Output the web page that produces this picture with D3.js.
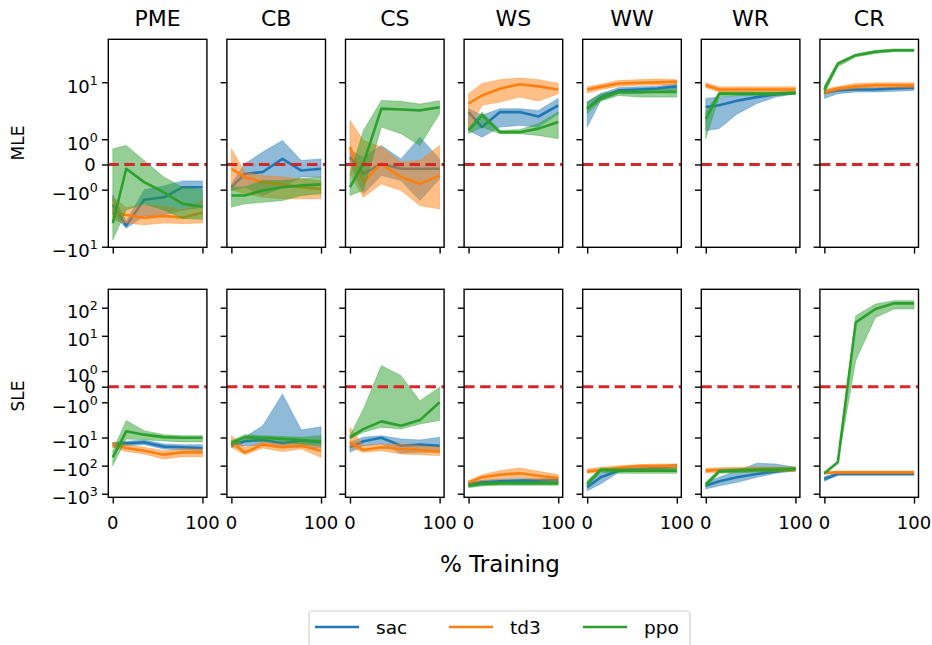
<!DOCTYPE html>
<html>
<head>
<meta charset="UTF-8">
<style>
  body { margin: 0; background: #fff; }
  text { font-family: "DejaVu Sans", sans-serif; fill: #000; }
</style>
</head>
<body>
<svg width="932" height="645"></svg>
<script src="https://cdn.jsdelivr.net/npm/d3@7/dist/d3.min.js"></script>
<script>
const envs = ["PME", "CB", "CS", "WS", "WW", "WR", "CR"];
const algos = ["sac", "td3", "ppo"];
const colors = ["#1f77b4", "#ff7f0e", "#2ca02c"];
const steps = [0, 15, 35, 57, 78, 100];
const xTicks = [0, 100];
const mleTicks = [-10, -1, 0, 1, 10];
const sleTicks = [-1000, -100, -10, -1, 0, 1, 10, 100];
const mleLimits = [-10.3, 88];
const sleLimits = [-1340, 452];

// per algorithm (sac, td3, ppo): [mean, low, high]
const mlePME = [
  [[-1.6, -3.4, -1.4, -1.3, -0.9, -0.9], [-2.0, -3.9, -2.1, -2.0, -1.8, -1.7], [-1.2, -2.8, -1.0, -0.85, -0.65, -0.65]],
  [[-1.9, -2.0, -2.3, -2.1, -2.3, -1.9], [-2.6, -3.0, -3.3, -3.0, -3.1, -3.0], [-1.3, -1.7, -1.6, -1.65, -1.8, -1.45]],
  [[-3.05, -0.17, -0.7, -1.1, -1.56, -1.67], [-7.1, -1.8, -1.56, -1.8, -2.4, -2.5], [0.62, 0.75, 0.16, -0.5, -0.9, -1.0]]
];
const mleCB = [
  [[-0.9, -0.37, -0.3, 0.22, -0.24, -0.17], [-1.03, -0.9, -1.23, -0.9, -0.5, -0.5], [-0.77, 0.03, 0.49, 0.95, 0.16, 0.22]],
  [[-0.17, -0.5, -0.7, -0.79, -0.9, -0.97], [-1.0, -1.16, -1.3, -1.36, -1.36, -1.36], [0.62, -0.3, -0.44, -0.5, -0.57, -0.64]],
  [[-1.23, -1.23, -1.03, -0.9, -0.83, -0.79], [-1.69, -1.56, -1.5, -1.43, -1.23, -1.16], [-0.9, -0.9, -0.64, -0.64, -0.57, -0.5]]
];
const mleCS = [
  [[0.29, -0.37, 0.03, -0.17, -0.17, -0.17], [0.03, -1.16, -0.44, -0.64, -1.43, -0.57], [0.56, 0.29, 0.75, 0.22, 1.08, 0.22]],
  [[0.69, -0.7, 0.03, -0.5, -0.77, -0.44], [-0.37, -1.3, -0.77, -1.03, -1.63, -1.76], [1.75, 0.95, 0.69, 0.09, 0.16, 0.75]],
  [[-0.9, 0.03, 2.62, 2.5, 2.4, 2.8], [-1.23, -1.03, 1.48, 1.22, 0.75, 2.02], [-0.37, 1.35, 3.98, 3.8, 3.3, 3.9]]
];
const mleWS = [
  [[2.2, 1.48, 2.2, 2.2, 1.9, 3.1], [1.35, 1.08, 1.48, 1.55, 1.48, 2.0], [2.6, 1.95, 2.6, 2.6, 2.4, 4.4]],
  [[3.4, 5.1, 7.2, 9.0, 8.1, 6.9], [1.35, 3.1, 3.67, 4.7, 3.85, 5.6], [5.6, 9.4, 11.4, 12.4, 11.4, 9.4]],
  [[1.35, 1.95, 1.28, 1.28, 1.42, 1.68], [1.22, 1.48, 1.22, 1.22, 1.15, 1.02], [1.42, 2.2, 1.35, 1.38, 1.62, 2.2]]
];
const mleWW = [
  [[2.6, 4.7, 6.6, 6.9, 7.3, 8.1], [1.48, 3.9, 5.6, 5.6, 6.1, 6.6], [3.67, 5.6, 7.6, 7.9, 8.1, 9.4]],
  [[6.9, 7.9, 9.4, 9.7, 9.9, 10.3], [5.8, 6.9, 8.1, 8.6, 8.6, 8.9], [7.9, 9.0, 10.9, 11.4, 11.7, 11.4]],
  [[2.6, 4.4, 6.1, 6.1, 6.1, 6.1], [2.0, 3.85, 5.1, 4.7, 4.7, 4.7], [3.67, 5.6, 6.6, 6.6, 6.9, 7.3]]
];
const mleWR = [
  [[2.85, 3.1, 3.9, 4.7, 5.4, 5.8], [1.35, 1.42, 2.0, 3.4, 4.7, 5.6], [4.4, 4.7, 5.1, 5.6, 5.8, 6.1]],
  [[8.6, 6.9, 6.9, 6.9, 6.9, 6.9], [7.6, 6.1, 6.1, 6.1, 6.1, 6.1], [9.7, 7.9, 7.9, 7.9, 7.9, 7.9]],
  [[1.81, 5.6, 5.6, 5.6, 5.6, 5.8], [1.02, 4.9, 5.1, 5.1, 5.1, 5.4], [2.2, 6.1, 6.1, 6.1, 6.1, 6.3]]
];
const mleCR = [
  [[5.8, 6.6, 6.9, 6.9, 7.3, 7.6], [4.4, 5.6, 6.1, 6.1, 6.3, 6.6], [6.6, 7.3, 7.6, 7.6, 7.9, 8.1]],
  [[6.1, 7.3, 8.1, 8.6, 8.6, 8.6], [5.4, 6.6, 7.3, 7.6, 7.6, 7.6], [6.9, 8.1, 9.4, 9.7, 9.7, 9.7]],
  [[6.9, 25.7, 39.4, 46.7, 50.7, 50.7], [5.6, 22, 36, 43, 46.7, 46.7], [8.6, 27.5, 42, 50.7, 54, 54]]
];

const slePME = [
  [[-17.9, -16.1, -14.8, -21.1, -22.3, -23.6], [-22.3, -19.5, -17.9, -25.6, -27.8, -29.4], [-14.8, -13.6, -12.2, -17.0, -17.9, -17.9]],
  [[-17.9, -23.6, -29.4, -40.7, -33.7, -33.7], [-22.3, -31.4, -38.4, -58, -48, -48], [-14.8, -17.9, -22.3, -29.4, -25.6, -25.6]],
  [[-50.7, -6.0, -7.9, -9.7, -10.2, -10.2], [-100, -11.2, -12, -13.2, -14.3, -14.3], [-29.4, -2.5, -5.7, -7.9, -8.6, -8.6]]
];
const sleCB = [
  [[-19.5, -13.6, -12.2, -16.1, -12.9, -14.8], [-22.3, -19.5, -19.5, -22.3, -22.3, -23.6], [-14.8, -9.6, -3.8, -0.47, -5.4, -4.1]],
  [[-14.8, -33.7, -17.9, -22.3, -19.5, -29.4], [-22.3, -40.7, -23.6, -31.4, -25.6, -50.7], [-8.6, -22.3, -14.8, -17.0, -14.8, -19.5]],
  [[-15.7, -9.7, -10.2, -11.2, -12.2, -13.6], [-19.5, -12.9, -13.6, -14.8, -17.0, -19.5], [-12.9, -7.9, -8.6, -9.2, -9.7, -8.6]]
];
const sleCS = [
  [[-22.3, -13.6, -10.2, -19.5, -17.9, -19.5], [-33.7, -19.5, -17.0, -36.3, -33.7, -33.7], [-14.8, -9.7, -8.6, -11.2, -12.2, -9.7]],
  [[-14.8, -27.8, -22.3, -25.6, -27.8, -31.4], [-22.3, -33.7, -29.4, -38.4, -40.7, -44], [-4.3, -19.5, -17.0, -17.0, -19.5, -22.3]],
  [[-9.7, -5.0, -2.66, -3.8, -2.4, -1.0], [-11.2, -6.5, -4.3, -5.0, -3.3, -2.5], [-8.6, -1.43, 1.35, 0.7, -0.9, -0.04]]
];
const sleWS = [
  [[-451, -394, -362, -343, -343, -325], [-531, -463, -427, -405, -405, -383], [-383, -334, -307, -291, -291, -276]],
  [[-394, -261, -210, -188, -228, -276], [-477, -343, -299, -276, -325, -343], [-343, -210, -151, -121, -160, -210]],
  [[-518, -451, -427, -427, -427, -427], [-610, -531, -500, -500, -500, -500], [-440, -383, -362, -362, -362, -362]]
];
const sleWW = [
  [[-592, -261, -151, -132, -121, -100], [-776, -451, -173, -151, -143, -121], [-394, -188, -121, -103, -100, -87.5]],
  [[-160, -143, -121, -103, -103, -103], [-188, -173, -151, -143, -136, -136], [-132, -115, -100, -93, -87.5, -87.5]],
  [[-451, -143, -151, -151, -151, -151], [-556, -173, -188, -188, -188, -188], [-343, -121, -124, -128, -128, -121]]
];
const sleWR = [
  [[-518, -362, -261, -198, -160, -132], [-680, -518, -394, -261, -188, -151], [-394, -261, -151, -82, -87.5, -115]],
  [[-151, -143, -140, -136, -136, -136], [-184, -173, -169, -165, -165, -165], [-124, -118, -115, -112, -112, -112]],
  [[-477, -160, -151, -143, -140, -132], [-592, -188, -178, -169, -165, -156], [-383, -136, -128, -121, -118, -112]]
];
const sleCR = [
  [[-299, -198, -198, -198, -198, -198], [-362, -219, -219, -219, -219, -219], [-246, -178, -178, -178, -178, -178]],
  [[-184, -173, -173, -173, -173, -173], [-200, -193, -193, -193, -193, -193], [-165, -156, -156, -156, -156, -156]],
  [[-188, -76, 30, 90, 143, 143], [-205, -84, 1.67, 45, 90, 90], [-173, -70, 52, 135, 178, 178]]
];

const rows = [
  { label: "MLE", ticks: mleTicks, limits: mleLimits, top: 39.3, labelY: 143,
    panels: [mlePME, mleCB, mleCS, mleWS, mleWW, mleWR, mleCR] },
  { label: "SLE", ticks: sleTicks, limits: sleLimits, top: 289.3, labelY: 396,
    panels: [slePME, sleCB, sleCS, sleWS, sleWW, sleWR, sleCR] }
];

// matplotlib style symlog, linthresh 2, linscale 1, base 10
const linAdj = 1 / (1 - 1 / 10);
function symT(v) {
  const a = Math.abs(v);
  if (a <= 2) return v * linAdj;
  return Math.sign(v) * 2 * (linAdj + Math.log10(a / 2));
}

const svg = d3.select("svg");
svg.append("rect").attr("width", 932).attr("height", 645).attr("fill", "#fff");

const pw = 98.6, ph = 208, left0 = 108.3, stepX = 118.6;
const x = d3.scaleLinear().domain([-5, 105]).range([0, pw]);

svg.append("defs").append("clipPath").attr("id", "clip")
  .append("rect").attr("width", pw).attr("height", ph);

rows.forEach((row, r) => {
  const yT = d3.scaleLinear().domain(row.limits.map(symT)).range([ph, 0]);
  const y = v => yT(symT(v));

  row.panels.forEach((panel, c) => {
    const g = svg.append("g")
      .attr("transform", `translate(${left0 + c * stepX},${row.top})`);
    const plot = g.append("g").attr("clip-path", "url(#clip)");

    panel.forEach((series, k) => {
      const [mean, lo, hi] = series;
      const band = steps.map((s, i) => [s, lo[i], hi[i]]);
      plot.append("path")
        .datum(band)
        .attr("fill", colors[k])
        .attr("fill-opacity", 0.5)
        .attr("stroke", colors[k])
        .attr("stroke-opacity", 0.35)
        .attr("stroke-width", 1)
        .attr("d", d3.area().x(d => x(d[0])).y0(d => y(d[1])).y1(d => y(d[2])));
      plot.append("path")
        .datum(steps.map((s, i) => [s, mean[i]]))
        .attr("fill", "none")
        .attr("stroke", colors[k])
        .attr("stroke-width", 2.6)
        .attr("stroke-linejoin", "round")
        .attr("d", d3.line().x(d => x(d[0])).y(d => y(d[1])));
    });

    // zero reference line
    plot.append("line")
      .attr("x1", 0).attr("x2", pw)
      .attr("y1", y(0)).attr("y2", y(0))
      .attr("stroke", "#d62728")
      .attr("stroke-width", 3)
      .attr("stroke-dasharray", "10.5,5.5");

    // axes ticks
    const ya = g.append("g")
      .call(d3.axisLeft(yT).tickValues(row.ticks.map(symT)).tickSize(6.3).tickFormat(""));
    const xa = g.append("g").attr("transform", `translate(0,${ph})`)
      .call(d3.axisBottom(x).tickValues(xTicks).tickSize(6.3).tickFormat(""));
    [ya, xa].forEach(a => {
      a.select(".domain").remove();
      a.selectAll("line").attr("stroke", "#000").attr("stroke-width", 1.4);
    });

    g.append("rect")
      .attr("width", pw).attr("height", ph)
      .attr("fill", "none").attr("stroke", "#000").attr("stroke-width", 1.4);

    if (r === 0) {
      g.append("text")
        .attr("x", pw / 2).attr("y", -13.3)
        .attr("text-anchor", "middle")
        .attr("font-size", 22)
        .text(envs[c]);
    }

    if (r === 1) {
      xTicks.forEach(t => {
        g.append("text")
          .attr("x", x(t)).attr("y", ph + 31.5)
          .attr("text-anchor", "middle")
          .attr("font-size", 18)
          .text(t);
      });
    }

    if (c === 0) {
      row.ticks.forEach(t => {
        const ty = y(t);
        if (t === 0) {
          g.append("text")
            .attr("x", -12.5).attr("y", ty + 6.5)
            .attr("text-anchor", "end")
            .attr("font-size", 18)
            .text("0");
        } else {
          const txt = g.append("text")
            .attr("x", -10.5).attr("y", ty + 10.5)
            .attr("text-anchor", "end")
            .attr("font-size", 18);
          txt.append("tspan").text((t < 0 ? "\u2212" : "") + "10");
          txt.append("tspan")
            .attr("dy", -8)
            .attr("font-size", 12.6)
            .text(Math.round(Math.log10(Math.abs(t))));
        }
      });
    }
  });

  svg.append("text")
    .attr("transform", `translate(24,${row.labelY}) rotate(-90)`)
    .attr("text-anchor", "middle")
    .attr("font-size", 17)
    .text(row.label);
});

svg.append("text")
  .attr("x", 500).attr("y", 572)
  .attr("text-anchor", "middle")
  .attr("font-size", 23)
  .text("% Training");

// legend
const legend = svg.append("g");
legend.append("rect")
  .attr("x", 309).attr("y", 611)
  .attr("width", 381).attr("height", 50)
  .attr("rx", 4)
  .attr("fill", "#fff")
  .attr("stroke", "#d0d0d0")
  .attr("stroke-width", 1.2);
algos.forEach((a, i) => {
  const lx = 315 + i * 134;
  legend.append("line")
    .attr("x1", lx).attr("x2", lx + 44)
    .attr("y1", 627).attr("y2", 627)
    .attr("stroke", colors[i]).attr("stroke-width", 2.6);
  legend.append("text")
    .attr("x", lx + 61).attr("y", 633.5)
    .attr("font-size", 18.5)
    .text(a);
});
</script>
</body>
</html>
